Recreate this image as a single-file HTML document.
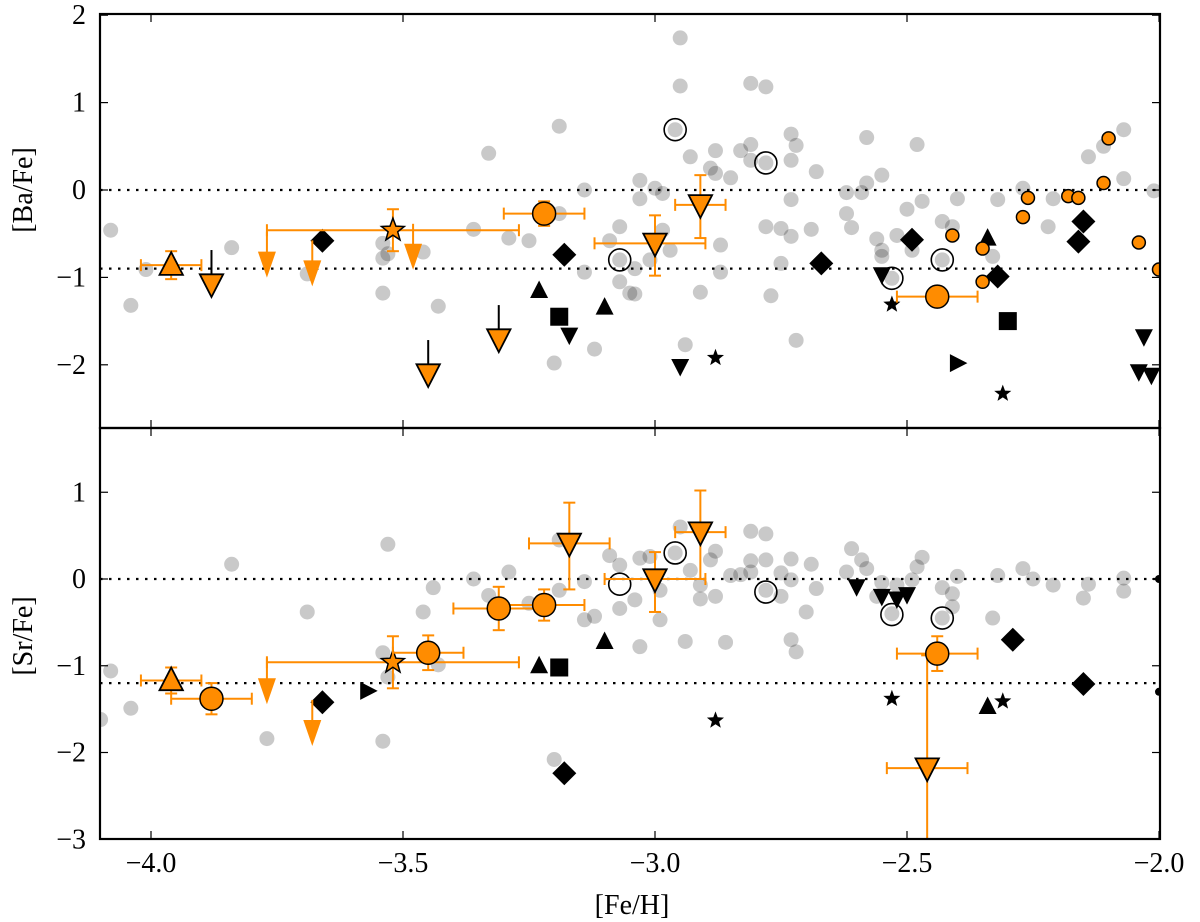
<!DOCTYPE html>
<html><head><meta charset="utf-8"><style>
html,body{margin:0;padding:0;background:#fff;}
svg{display:block;}
text{font-family:"Liberation Serif",serif;fill:#000;}
</style></head><body>
<svg id="chart" width="1200" height="922" viewBox="0 0 1200 922" xmlns="http://www.w3.org/2000/svg">
<defs>
<clipPath id="clipTop"><rect x="100" y="14" width="1060" height="414"/></clipPath>
<clipPath id="clipBot"><rect x="100" y="428" width="1060" height="411"/></clipPath>
</defs>
<g id="top" clip-path="url(#clipTop)"></g>
<g id="bot" clip-path="url(#clipBot)"></g>
<g id="axes"></g>
<text x="32" y="190" font-size="28" text-anchor="middle" transform="rotate(-90 32 190)">[Ba/Fe]</text>
<text x="32" y="636" font-size="28" text-anchor="middle" transform="rotate(-90 32 636)">[Sr/Fe]</text>
<text x="632" y="914" font-size="28" text-anchor="middle">[Fe/H]</text>
</svg>
<script>
// ---------- data: [Ba/Fe] panel ----------
const baGrayX=[-4.08,-4.04,-4.01,-3.84,-3.69,-3.54,-3.54,-3.53,-3.46,-3.54,-3.43,-3.36,-3.33,-3.29,-3.25,-3.19,-3.19,-3.14,-3.14,-3.12,-3.20,-3.07,-3.09,-3.07,-3.07,-3.05,
-2.95,-2.95,-2.81,-2.78,-2.96,-2.93,-2.88,-2.83,-2.81,-2.81,-2.89,-2.88,-2.85,-2.73,-2.72,-2.73,-2.78,-2.68,-3.03,-3.0,-2.985,-3.03,-2.73,-2.62,-2.59,-2.58,-2.55,-2.58,-2.48,-2.62,-2.61,-2.50,-2.47,-2.78,-2.75,-2.73,-2.69,-2.985,-2.97,-3.01,-3.04,-3.04,-2.91,-2.87,-2.87,-2.75,-2.77,-2.94,-2.72,-2.56,-2.55,-2.55,-2.52,-2.49,-2.53,-2.43,-2.41,-2.43,-2.40,-2.32,-2.33,-2.27,-2.21,-2.22,-2.14,-2.11,-2.07,-2.07,-2.01];
const baGrayY=[-0.46,-1.32,-0.91,-0.66,-0.96,-0.61,-0.78,-0.73,-0.71,-1.18,-1.33,-0.45,0.42,-0.55,-0.58,0.73,-0.27,0.0,-0.94,-1.82,-1.98,-0.42,-0.58,-1.05,-0.80,-1.18,
1.74,1.19,1.22,1.18,0.69,0.38,0.45,0.45,0.52,0.34,0.25,0.19,0.14,0.64,0.51,0.34,0.31,0.21,0.11,0.02,-0.04,-0.10,-0.11,-0.03,-0.03,0.08,0.17,0.60,0.52,-0.27,-0.43,-0.22,-0.13,-0.42,-0.44,-0.53,-0.45,-0.46,-0.69,-0.80,-0.90,-1.19,-1.17,-0.63,-0.94,-0.84,-1.21,-1.77,-1.72,-0.56,-0.69,-0.76,-0.52,-0.69,-1.01,-0.36,-0.42,-0.80,-0.10,-0.11,-0.76,0.02,-0.10,-0.42,0.38,0.50,0.69,0.13,-0.01];
const baDiamX=[-3.66,-3.18,-2.67,-2.49,-2.32,-2.15,-2.16];
const baDiamY=[-0.58,-0.74,-0.84,-0.57,-0.99,-0.36,-0.59];
const baTriUpX=[-3.23,-3.10,-2.34];
const baTriUpY=[-1.15,-1.34,-0.55];
const baSquareX=[-3.19,-2.30];
const baSquareY=[-1.45,-1.50];
const baTriDownX=[-3.17,-2.95,-2.55,-2.03,-2.04,-2.015];
const baTriDownY=[-1.66,-2.02,-0.97,-1.68,-2.08,-2.12];
const baStarX=[-2.88,-2.53,-2.31];
const baStarY=[-1.92,-1.31,-2.33];
const baTriRightX=[-2.40];
const baTriRightY=[-1.98];
const baOpenX=[-2.96,-2.78,-2.53,-2.43,-3.07];
const baOpenY=[0.69,0.31,-1.01,-0.80,-0.80];
const baSmallOrX=[-2.10,-2.11,-2.26,-2.18,-2.16,-2.27,-2.41,-2.35,-2.35,-2.04,-2.0];
const baSmallOrY=[0.59,0.08,-0.09,-0.07,-0.09,-0.31,-0.52,-0.67,-1.05,-0.60,-0.91];
const baOrTriUpX=[-3.96], baOrTriUpY=[-0.86], baOrTriUpXe=[0.06], baOrTriUpYe=[0.16];
const baOrCircX=[-3.22,-2.44], baOrCircY=[-0.27,-1.22], baOrCircXe=[0.08,0.08], baOrCircYe=[0.14,0.0];
const baOrStarX=[-3.52], baOrStarY=[-0.46], baOrStarXe=[0.25], baOrStarYe=[0.24];
const baOrTriDownX=[-3.0,-2.91], baOrTriDownY=[-0.61,-0.17];
const baOrTriDownXm=[0.12,0.05], baOrTriDownXp=[0.1,0.05], baOrTriDownYm=[0.37,0.38], baOrTriDownYp=[0.32,0.34];
const baOrLimEdgeX=[-3.88,-3.45,-3.31], baOrLimEdgeY=[-1.03,-2.06,-1.66];
const baOrLimPlainX=[-3.77,-3.68,-3.48], baOrLimPlainY=[-0.82,-0.92,-0.73];
const baRefLines=[0,-0.9];

// ---------- data: [Sr/Fe] panel ----------
const srGrayX=[-4.08,-4.04,-4.10,-3.84,-3.69,-3.77,-3.53,-3.54,-3.53,-3.54,-3.43,-3.44,-3.46,-3.36,-3.29,-3.33,-3.25,-3.19,-3.14,-3.14,-3.12,-3.20,-3.09,-3.07,-3.07,-3.19,
-2.95,-3.03,-3.01,-3.04,-2.99,-2.99,-3.03,-2.94,-2.86,-2.73,-2.72,-2.70,-2.96,-2.93,-2.88,-2.89,-2.91,-2.91,-2.88,-2.85,-2.83,-2.81,-2.81,-2.78,-2.81,-2.78,-2.78,-2.75,-2.75,-2.73,-2.73,-2.69,-2.68,-2.62,-2.61,-2.59,-2.58,-2.55,-2.56,-2.52,-2.49,-2.48,-2.47,-2.53,-2.43,-2.41,-2.40,-2.41,-2.43,-2.33,-2.32,-2.27,-2.25,-2.21,-2.14,-2.15,-2.07,-2.07];
const srGrayY=[-1.06,-1.49,-1.62,0.17,-0.38,-1.84,0.40,-0.85,-1.13,-1.87,-0.99,-0.10,-0.38,0.0,0.08,-0.19,-0.28,-0.13,-0.03,-0.47,-0.43,-2.08,0.27,0.16,-0.34,0.45,
0.60,0.24,0.26,-0.24,-0.13,-0.47,-0.78,-0.72,-0.73,-0.70,-0.84,-0.38,0.30,0.10,0.32,0.22,-0.07,-0.23,-0.20,0.04,0.05,0.08,0.55,0.52,0.21,0.22,-0.13,0.07,-0.20,0.23,-0.01,0.17,-0.11,0.08,0.35,0.22,0.12,-0.04,-0.20,-0.07,-0.01,0.14,0.25,-0.40,-0.10,-0.17,0.03,-0.32,-0.45,-0.45,0.04,0.12,0.0,-0.07,-0.06,-0.22,0.01,-0.14];
const srDiamX=[-3.66,-3.18,-2.29,-2.15];
const srDiamY=[-1.42,-2.24,-0.70,-1.21];
const srTriUpX=[-3.23,-3.10,-2.34];
const srTriUpY=[-1.0,-0.72,-1.47];
const srSquareX=[-3.19];
const srSquareY=[-1.02];
const srTriDownX=[-2.60,-2.55,-2.52,-2.50];
const srTriDownY=[-0.09,-0.20,-0.23,-0.18];
const srStarX=[-2.88,-2.53,-2.31];
const srStarY=[-1.63,-1.38,-1.41];
const srTriRightX=[-3.57];
const srTriRightY=[-1.29];
const srOpenX=[-2.96,-2.78,-2.53,-2.43,-3.07];
const srOpenY=[0.30,-0.15,-0.41,-0.45,-0.06];
const srDotX=[-2.0,-2.0];
const srDotY=[0.0,-1.3];
const srOrTriUpX=[-3.96], srOrTriUpY=[-1.17], srOrTriUpXe=[0.06], srOrTriUpYe=[0.15];
const srOrCircX=[-3.88,-3.45,-3.31,-3.22,-2.44], srOrCircY=[-1.38,-0.85,-0.34,-0.30,-0.86];
const srOrCircXm=[0.08,0.07,0.09,0.08,0.08], srOrCircXp=[0.08,0.07,0.08,0.08,0.08], srOrCircYe=[0.18,0.2,0.25,0.18,0.2];
const srOrStarX=[-3.52], srOrStarY=[-0.96], srOrStarXe=[0.25], srOrStarYe=[0.3];
const srOrTriDownX=[-3.17,-3.0,-2.91,-2.46], srOrTriDownY=[0.41,0.0,0.54,-2.18];
const srOrTriDownXm=[0.08,0.1,0.05,0.08], srOrTriDownXp=[0.08,0.1,0.05,0.08], srOrTriDownYm=[0.53,0.38,0.54,2.0], srOrTriDownYp=[0.47,0.31,0.48,1.3];
const srOrLimPlainX=[-3.77,-3.68], srOrLimPlainY=[-1.26,-1.74];
const srRefLines=[0,-1.2];

const xTicks=[-4.0,-3.5,-3.0,-2.5,-2.0];
const xTickLabels=["−4.0","−3.5","−3.0","−2.5","−2.0"];
const baTicks=[2,1,0,-1,-2];
const baTickLabels=["2","1","0","−1","−2"];
const srTicks=[1,0,-1,-2,-3];
const srTickLabels=["1","0","−1","−2","−3"];

// ---------- scales ----------
const L=100, R=1160, T=14, M=428, B=839;
const X=v=>100.6+(v+4.1)*504;
const YT=v=>190-v*87.4;
const YB=v=>579-v*86.75;
const OR="#ff8c00";
const NS="http://www.w3.org/2000/svg";
function mk(tag,attrs,parent){const e=document.createElementNS(NS,tag);for(const k in attrs)e.setAttribute(k,attrs[k]);parent.appendChild(e);return e;}

function marker(g,type,cx,cy,s,fill,stroke,sw,name){
  let e;
  if(type==='circle'){e=mk('circle',{cx:cx,cy:cy,r:s,fill:fill,stroke:stroke,'stroke-width':sw},g);}
  else if(type==='square'){e=mk('rect',{x:cx-s,y:cy-s,width:2*s,height:2*s,fill:fill,stroke:stroke,'stroke-width':sw},g);}
  else {
    let pts;
    if(type==='diamond')pts=[[cx,cy-s],[cx+s,cy],[cx,cy+s],[cx-s,cy]];
    else if(type==='up')pts=[[cx,cy-s],[cx+s*0.9,cy+s*0.75],[cx-s*0.9,cy+s*0.75]];
    else if(type==='down')pts=[[cx,cy+s],[cx+s*0.9,cy-s*0.75],[cx-s*0.9,cy-s*0.75]];
    else if(type==='right')pts=[[cx+s,cy],[cx-s*0.75,cy-s*0.9],[cx-s*0.75,cy+s*0.9]];
    else if(type==='star'){pts=[];for(let i=0;i<10;i++){const r=i%2?s*0.42:s;const a=-Math.PI/2+i*Math.PI/5;pts.push([cx+r*Math.cos(a),cy+r*Math.sin(a)]);}}
    e=mk('polygon',{points:pts.map(p=>p[0].toFixed(1)+','+p[1].toFixed(1)).join(' '),fill:fill,stroke:stroke,'stroke-width':sw},g);
  }
  
  
  return e;
}
function errbar(g,Y,x,y,xm,xp,ym,yp){
  const w=2;
  if(xm>0||xp>0){
    const l=mk('line',{x1:X(x-xm),x2:X(x+xp),y1:Y(y),y2:Y(y),stroke:OR,'stroke-width':w},g);
    
    
    mk('line',{x1:X(x-xm),x2:X(x-xm),y1:Y(y)-6,y2:Y(y)+6,stroke:OR,'stroke-width':w},g);
    mk('line',{x1:X(x+xp),x2:X(x+xp),y1:Y(y)-6,y2:Y(y)+6,stroke:OR,'stroke-width':w},g);
  }
  if(ym>0||yp>0){
    const l=mk('line',{x1:X(x),x2:X(x),y1:Y(y-ym),y2:Y(y+yp),stroke:OR,'stroke-width':w},g);
    
    
    mk('line',{x1:X(x)-6,x2:X(x)+6,y1:Y(y-ym),y2:Y(y-ym),stroke:OR,'stroke-width':w},g);
    mk('line',{x1:X(x)-6,x2:X(x)+6,y1:Y(y+yp),y2:Y(y+yp),stroke:OR,'stroke-width':w},g);
  }
}
function refLines(g,Y,vals){
  vals.forEach(v=>{const l=mk('line',{x1:L,x2:R,y1:Y(v),y2:Y(v),stroke:'#000','stroke-width':2.2,'stroke-dasharray':'2.5,6.5'},g);
    
    });
}
function series(g,Y,xs,ys,type,s,fill,stroke,sw,name){xs.forEach((x,i)=>marker(g,type,X(x),Y(ys[i]),s,fill,stroke,sw,name));}
function limits(g,Y,xs,ys,stemColor,edge,name){
  xs.forEach((x,i)=>{
    const cx=X(x),cy=Y(ys[i]);
    const l=mk('line',{x1:cx,x2:cx,y1:cy-30,y2:cy,stroke:stemColor,'stroke-width':2},g);
    
    
    if(edge)marker(g,'down',cx,cy+4,13,OR,'#000',1.8,name);
    else { const e=mk('polygon',{points:`${cx-9},${cy-10} ${cx+9},${cy-10} ${cx},${cy+16}`,fill:OR},g);
      
       }
  });
}

// ---------- top panel ----------
const gt=document.getElementById('top');
refLines(gt,YT,baRefLines);
series(gt,YT,baGrayX,baGrayY,'circle',7.5,'rgba(0,0,0,0.21)','none',0,'literature-star');
series(gt,YT,baOpenX,baOpenY,'circle',11,'none','#000',1.6,'open-circle-star');
series(gt,YT,baDiamX,baDiamY,'diamond',12,'#000','none',0,'diamond-star');
series(gt,YT,baTriUpX,baTriUpY,'up',10,'#000','none',0,'triangle-up-star');
series(gt,YT,baSquareX,baSquareY,'square',9,'#000','none',0,'square-star');
series(gt,YT,baTriDownX,baTriDownY,'down',10,'#000','none',0,'triangle-down-star');
series(gt,YT,baStarX,baStarY,'star',9,'#000','none',0,'star-marker');
series(gt,YT,baTriRightX,baTriRightY,'right',10,'#000','none',0,'triangle-right-star');
series(gt,YT,baSmallOrX,baSmallOrY,'circle',6.5,OR,'#000',1.5,'small-orange-circle');
baOrTriUpX.forEach((x,i)=>errbar(gt,YT,x,baOrTriUpY[i],baOrTriUpXe[i],baOrTriUpXe[i],baOrTriUpYe[i],baOrTriUpYe[i]));
series(gt,YT,baOrTriUpX,baOrTriUpY,'up',13,OR,'#000',1.8,'orange-triangle-up');
baOrStarX.forEach((x,i)=>errbar(gt,YT,x,baOrStarY[i],baOrStarXe[i],baOrStarXe[i],baOrStarYe[i],baOrStarYe[i]));
limits(gt,YT,baOrLimPlainX,baOrLimPlainY,OR,false,'orange-upper-limit');
limits(gt,YT,baOrLimEdgeX,baOrLimEdgeY,'#000',true,'orange-upper-limit-edged');
series(gt,YT,baOrStarX,baOrStarY,'star',12,OR,'#000',1.5,'orange-star');
baOrCircX.forEach((x,i)=>errbar(gt,YT,x,baOrCircY[i],baOrCircXe[i],baOrCircXe[i],baOrCircYe[i],baOrCircYe[i]));
series(gt,YT,baOrCircX,baOrCircY,'circle',11.5,OR,'#000',1.5,'orange-circle');
baOrTriDownX.forEach((x,i)=>errbar(gt,YT,x,baOrTriDownY[i],baOrTriDownXm[i],baOrTriDownXp[i],baOrTriDownYm[i],baOrTriDownYp[i]));
series(gt,YT,baOrTriDownX,baOrTriDownY,'down',13,OR,'#000',1.8,'orange-triangle-down');

// ---------- bottom panel ----------
const gb=document.getElementById('bot');
refLines(gb,YB,srRefLines);
series(gb,YB,srGrayX,srGrayY,'circle',7.5,'rgba(0,0,0,0.21)','none',0,'literature-star');
series(gb,YB,srOpenX,srOpenY,'circle',11,'none','#000',1.6,'open-circle-star');
series(gb,YB,srDiamX,srDiamY,'diamond',12,'#000','none',0,'diamond-star');
series(gb,YB,srTriUpX,srTriUpY,'up',10,'#000','none',0,'triangle-up-star');
series(gb,YB,srSquareX,srSquareY,'square',9,'#000','none',0,'square-star');
series(gb,YB,srTriDownX,srTriDownY,'down',10,'#000','none',0,'triangle-down-star');
series(gb,YB,srStarX,srStarY,'star',9,'#000','none',0,'star-marker');
series(gb,YB,srTriRightX,srTriRightY,'right',10,'#000','none',0,'triangle-right-star');
series(gb,YB,srDotX,srDotY,'circle',4,'#000','none',0,'edge-dot');
srOrTriUpX.forEach((x,i)=>errbar(gb,YB,x,srOrTriUpY[i],srOrTriUpXe[i],srOrTriUpXe[i],srOrTriUpYe[i],srOrTriUpYe[i]));
series(gb,YB,srOrTriUpX,srOrTriUpY,'up',13,OR,'#000',1.8,'orange-triangle-up');
srOrStarX.forEach((x,i)=>errbar(gb,YB,x,srOrStarY[i],srOrStarXe[i],srOrStarXe[i],srOrStarYe[i],srOrStarYe[i]));
limits(gb,YB,srOrLimPlainX,srOrLimPlainY,OR,false,'orange-upper-limit');
series(gb,YB,srOrStarX,srOrStarY,'star',12,OR,'#000',1.5,'orange-star');
srOrTriDownX.forEach((x,i)=>errbar(gb,YB,x,srOrTriDownY[i],srOrTriDownXm[i],srOrTriDownXp[i],srOrTriDownYm[i],srOrTriDownYp[i]));
srOrCircX.forEach((x,i)=>errbar(gb,YB,x,srOrCircY[i],srOrCircXm[i],srOrCircXp[i],srOrCircYe[i],srOrCircYe[i]));
series(gb,YB,srOrCircX,srOrCircY,'circle',11.5,OR,'#000',1.5,'orange-circle');
series(gb,YB,srOrTriDownX,srOrTriDownY,'down',13,OR,'#000',1.8,'orange-triangle-down');

// ---------- axes ----------
const ga=document.getElementById('axes');
function frame(y1,y2,name){const r=mk('rect',{x:L,y:y1,width:R-L,height:y2-y1,fill:'none',stroke:'#000','stroke-width':2.2},ga);
  
  }
frame(T,M,'ba-fe-frame');frame(M,B,'sr-fe-frame');
[[T,M],[M,B]].forEach(([y1,y2])=>{
  xTicks.forEach(v=>{mk('line',{x1:X(v),x2:X(v),y1:y2,y2:y2-8,stroke:'#000','stroke-width':1.2},ga);
    mk('line',{x1:X(v),x2:X(v),y1:y1,y2:y1+8,stroke:'#000','stroke-width':1.2},ga);});
});
function yTicks(vals,labs,Y,name){vals.forEach((v,i)=>{
  const y=Y(v);
  mk('line',{x1:L,x2:L+8,y1:y,y2:y,stroke:'#000','stroke-width':1.2},ga);
  mk('line',{x1:R,x2:R-8,y1:y,y2:y,stroke:'#000','stroke-width':1.2},ga);
  const t=mk('text',{x:86,y:y+9,'font-size':28,'text-anchor':'end'},ga);t.textContent=labs[i];
  
  
});}
yTicks(baTicks,baTickLabels,YT,'ba-y-tick-label');
yTicks(srTicks,srTickLabels,YB,'sr-y-tick-label');
xTicks.forEach((v,i)=>{const t=mk('text',{x:X(v),y:872,'font-size':28,'text-anchor':'middle'},ga);t.textContent=xTickLabels[i];
  
  });
</script>
</body></html>
